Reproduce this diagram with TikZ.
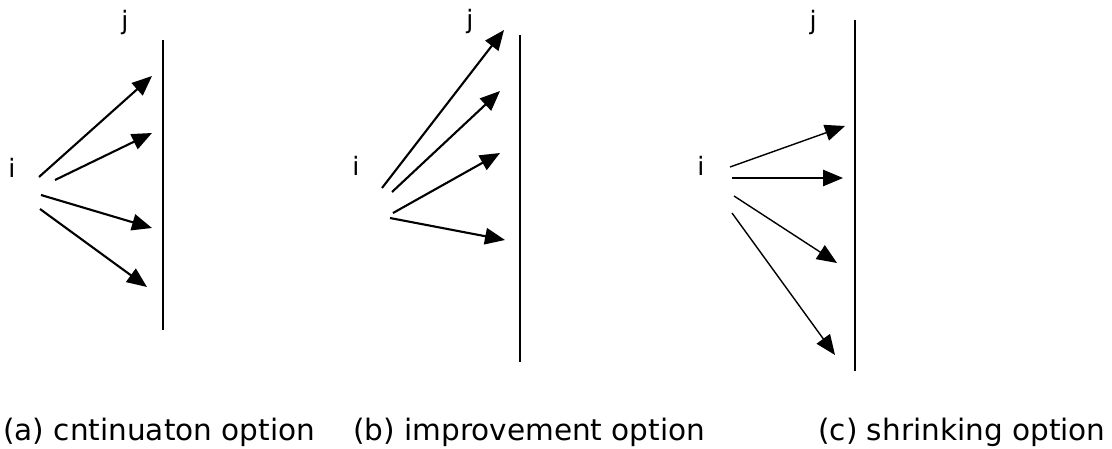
\documentclass[tikz,border=0pt]{standalone}
\usepackage{fontspec}
\setmainfont{DejaVu Sans}
\usetikzlibrary{arrows.meta}

\begin{document}
\begin{tikzpicture}[
  x=0.25mm,y=-0.25mm,
  font=\fontsize{18}{21}\selectfont,
  wall/.style={line width=1.6pt},
  ray/.style={-{Triangle[length=5mm,width=4.1mm]},line width=1.5pt},
  thinray/.style={ray,line width=1pt},
  lbl/.style={anchor=base,inner sep=0pt},
  captext/.style={anchor=base west,inner sep=0pt,font=\fontsize{21}{24}\selectfont},
]
  \useasboundingbox (0,0) rectangle (1112,449);
  % ---------------- continuation ----------------
  \begin{scope}
    \node[lbl] (ia) at (12,177) {i};
    \node[lbl] (ja) at (125,30) {j};
    \coordinate (ta) at (163,40); \coordinate (ba) at (163,330);
    \draw[wall] (ta) -- (ba);
    \foreach \n/\sx/\sy/\ex/\ey in {1/39/177/152/76, 2/55/180/152/133,
        3/41/195/152/228, 4/40/209/147/287} {
      \coordinate (a\n s) at (\sx,\sy);
      \coordinate (a\n e) at (\ex,\ey);
    }
    \foreach \n in {1,...,4} \draw[ray] (a\n s) -- (a\n e);
    \node[captext] (capa) at (3,440) {(a) cntinuaton option};
  \end{scope}
  % ---------------- improvement ----------------
  \begin{scope}
    \node[lbl] (ib) at (356,175) {i};
    \node[lbl] (jb) at (470,29) {j};
    \coordinate (tb) at (520,35); \coordinate (bb) at (520,362);
    \draw[wall] (tb) -- (bb);
    \foreach \n/\sx/\sy/\ex/\ey in {1/382/188/504/30, 2/392/192/500/91,
        3/393/213/500/153, 4/390/218/505/240} {
      \coordinate (b\n s) at (\sx,\sy);
      \coordinate (b\n e) at (\ex,\ey);
    }
    \foreach \n in {1,...,4} \draw[ray] (b\n s) -- (b\n e);
    \node[captext] (capb) at (353,440) {(b) improvement option};
  \end{scope}
  % ---------------- shrinking ----------------
  \begin{scope}
    \node[lbl] (ic) at (701,175) {i};
    \node[lbl] (jc) at (813,30) {j};
    \coordinate (tc) at (855,20); \coordinate (bc) at (855,371);
    \draw[wall] (tc) -- (bc);
    \foreach \n/\sx/\sy/\ex/\ey in {1/730/167/845/126, 2/732/178/843/178,
        3/734/196/837/263, 4/732/213/835/355} {
      \coordinate (c\n s) at (\sx,\sy);
      \coordinate (c\n e) at (\ex,\ey);
    }
    \foreach \n in {1,...,4} \draw[thinray] (c\n s) -- (c\n e);
    \node[captext] (capc) at (818,440) {(c) shrinking option};
  \end{scope}
\end{tikzpicture}
\end{document}
